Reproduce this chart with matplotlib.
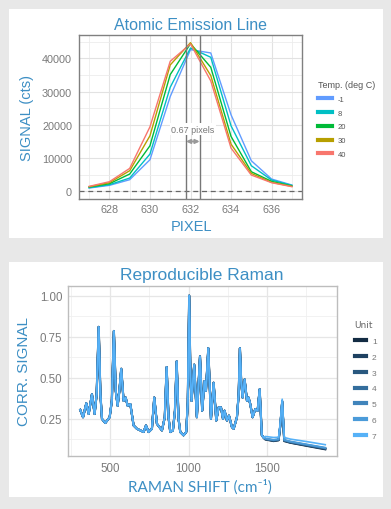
import matplotlib
matplotlib.use("Agg")
import matplotlib.pyplot as plt
from matplotlib.patches import Rectangle
from matplotlib.ticker import MultipleLocator
import numpy as np

# ---- Atomic emission line data ----
pixels = [627, 628, 629, 630, 631, 632, 633, 634, 635, 636, 637]
temps = ['-1', '8', '20', '30', '40']
signal_m1 = [1000, 1800, 3500, 9500, 28500, 42600, 41600, 23000, 9200, 3700, 1900]
signal_8 = [1100, 2000, 4000, 11200, 31300, 43100, 40300, 19700, 7700, 3400, 1800]
signal_20 = [1300, 2300, 5200, 13700, 35100, 44400, 37300, 16500, 5900, 3000, 1600]
signal_30 = [1400, 2600, 6200, 16700, 38000, 44700, 34800, 14200, 5400, 2700, 1500]
signal_40 = [1500, 2900, 6900, 19400, 39100, 44300, 33200, 13000, 4900, 2600, 1400]
temp_colors = ['#619CFF', '#00BFC4', '#00BA38', '#B79F00', '#F8766D']
centroids = [631.78, 632.45]
shift_label = '0.67 pixels'

# ---- Raman spectrum data (shared part, all units overlap) ----
raman_x = [308, 326, 347, 362, 383, 400, 413, 426, 437, 447, 468, 496, 510, 523, 535,
           547, 558, 570, 585, 598, 611, 628, 649, 670, 692, 713, 728, 745, 766, 781,
           798, 830, 848, 860, 872, 883, 900, 913, 924, 936, 947, 968, 985, 995, 1004,
           1012, 1019, 1036, 1053, 1073, 1087, 1102, 1111, 1126, 1143, 1160, 1177, 1192,
           1207, 1220, 1230, 1245, 1258, 1277, 1288, 1309, 1320, 1328, 1336, 1345, 1358,
           1373, 1383, 1394, 1409, 1426, 1441, 1454, 1468, 1480]
raman_y = [0.305, 0.26, 0.345, 0.28, 0.40, 0.28, 0.40, 0.81, 0.40, 0.25, 0.225, 0.26,
           0.36, 0.785, 0.42, 0.33, 0.42, 0.555, 0.36, 0.38, 0.33, 0.34, 0.21, 0.19,
           0.18, 0.17, 0.21, 0.17, 0.19, 0.38, 0.22, 0.18, 0.26, 0.565, 0.26, 0.17,
           0.18, 0.30, 0.60, 0.25, 0.17, 0.15, 0.17, 0.35, 1.0, 0.50, 0.36, 0.58, 0.26,
           0.63, 0.30, 0.48, 0.42, 0.68, 0.25, 0.47, 0.24, 0.32, 0.32, 0.25, 0.30, 0.24,
           0.27, 0.20, 0.19, 0.26, 0.40, 0.68, 0.48, 0.38, 0.49, 0.36, 0.38, 0.34, 0.26,
           0.31, 0.30, 0.43, 0.15, 0.135]

# tail region, where the units separate
tail_x = [1490, 1543, 1575, 1586, 1598, 1611, 1650, 1760, 1873]
units = ['1', '2', '3', '4', '5', '6', '7']
tail_u1 = [0.125, 0.115, 0.120, 0.21, 0.355, 0.115, 0.105, 0.085, 0.065]
tail_u2 = [0.126, 0.117, 0.121, 0.21, 0.355, 0.117, 0.106, 0.087, 0.067]
tail_u3 = [0.127, 0.118, 0.122, 0.21, 0.358, 0.118, 0.108, 0.088, 0.069]
tail_u4 = [0.128, 0.119, 0.123, 0.21, 0.358, 0.119, 0.109, 0.090, 0.071]
tail_u5 = [0.129, 0.121, 0.125, 0.215, 0.36, 0.121, 0.111, 0.092, 0.073]
tail_u6 = [0.131, 0.123, 0.127, 0.215, 0.36, 0.123, 0.113, 0.094, 0.075]
tail_u7 = [0.143, 0.137, 0.138, 0.23, 0.37, 0.137, 0.127, 0.111, 0.093]
unit_colors = ['#132B43', '#1E4161', '#29587F', '#346E9D', '#4084BB', '#4B9BD9', '#56B1F7']

BLUE = '#3d8fc4'
TICK = '#7a7a7a'
W, H = 391, 510

fig = plt.figure(figsize=(W / 100, H / 100), dpi=100, facecolor='#e8e8e8')

# white cards
fig.patches.append(Rectangle((9 / W, 1 - 239 / H), 374 / W, 229 / H,
                             transform=fig.transFigure, facecolor='white', zorder=-1))
fig.patches.append(Rectangle((9 / W, 1 - 498 / H), 374 / W, 235 / H,
                             transform=fig.transFigure, facecolor='white', zorder=-1))

# ---------------- top panel ----------------
ax1 = fig.add_axes([79 / W, 1 - 200 / H, 223 / W, 164 / H])
series = [signal_m1, signal_8, signal_20, signal_30, signal_40]
for t, s, c in zip(temps, series, temp_colors):
    ax1.plot(pixels, s, color=c, lw=1.0, label=t)
ax1.axhline(0, color='#666666', lw=0.9, ls=(0, (4, 3)))
for cx in centroids:
    ax1.axvline(cx, color='#777777', lw=1.0)
ax1.annotate('', xy=(centroids[0], 15000), xytext=(centroids[1], 15000),
             arrowprops=dict(arrowstyle='<|-|>', color='#999999', lw=1.3,
                             mutation_scale=6, shrinkA=0, shrinkB=0))
ax1.text(np.mean(centroids), 18700, shift_label, ha='center', va='center',
         fontsize=6.5, color='#777777', family='Liberation Sans',
         bbox=dict(facecolor='white', edgecolor='none', pad=1))
ax1.set_xlim(626.5, 637.5)
ax1.set_ylim(-2300, 47000)
ax1.xaxis.set_major_locator(MultipleLocator(2))
ax1.xaxis.set_minor_locator(MultipleLocator(1))
ax1.yaxis.set_major_locator(MultipleLocator(10000))
ax1.yaxis.set_minor_locator(MultipleLocator(5000))
ax1.grid(which='major', color='#e2e2e2', lw=0.8)
ax1.grid(which='minor', color='#ececec', lw=0.6)
ax1.set_axisbelow(True)
ax1.tick_params(which='both', length=0, labelsize=7.8, colors=TICK)
ax1.tick_params(axis='y', pad=5)
ax1.tick_params(axis='x', pad=3.5)
for lab in ax1.get_xticklabels() + ax1.get_yticklabels():
    lab.set_family('Liberation Sans')
for sp in ax1.spines.values():
    sp.set_color('#808080')
    sp.set_linewidth(1.0)

fig.text(190.5 / W, 1 - 25 / H, 'Atomic Emission Line', ha='center', va='center',
         fontsize=11.5, color=BLUE, family='Liberation Sans')
fig.text(26.7 / W, 1 - 118 / H, 'SIGNAL (cts)', ha='center', va='center',
         rotation=90, fontsize=10.5, color=BLUE, family='Liberation Sans')
fig.text(191 / W, 1 - 227.3 / H, 'PIXEL', ha='center', va='center',
         fontsize=10.5, color=BLUE, family='Liberation Sans')

leg1 = fig.legend(*ax1.get_legend_handles_labels(), loc='upper left',
                  bbox_to_anchor=(311 / W, 1 - 74 / H), frameon=False,
                  title='Temp. (deg C)', fontsize=5.5, title_fontsize=6.5,
                  handlelength=1.8, handletextpad=0.8, labelspacing=0.85,
                  prop={'family': 'Liberation Sans', 'size': 5.5})
leg1.get_title().set_color('#555555')
leg1.get_title().set_family('Liberation Sans')
leg1._legend_box.align = 'left'
for h in leg1.legend_handles:
    h.set_linewidth(3)
for tx in leg1.get_texts():
    tx.set_color('#555555')

# ---------------- bottom panel ----------------
ax2 = fig.add_axes([68 / W, 1 - 456.7 / H, 269 / W, 169.4 / H])
tails = [tail_u1, tail_u2, tail_u3, tail_u4, tail_u5, tail_u6, tail_u7]
widths = [1.55, 1.5, 1.45, 1.4, 1.35, 1.3, 1.2]
for u, tl, c, lw in zip(units, tails, unit_colors, widths):
    ax2.plot(raman_x + tail_x, raman_y + tl, color=c, lw=lw, label=u)
ax2.set_xlim(230, 1948)
ax2.set_ylim(0.026, 1.057)
ax2.xaxis.set_major_locator(MultipleLocator(500))
ax2.xaxis.set_minor_locator(MultipleLocator(250))
ax2.yaxis.set_major_locator(MultipleLocator(0.25))
ax2.yaxis.set_minor_locator(MultipleLocator(0.125))
ax2.yaxis.set_major_formatter(lambda v, p: f'{v:.2f}')
ax2.grid(which='major', color='#e6e6e6', lw=0.9)
ax2.grid(which='minor', color='#f0f0f0', lw=0.6)
ax2.set_axisbelow(True)
ax2.tick_params(which='both', length=0, labelsize=8.3, colors=TICK)
ax2.tick_params(axis='y', pad=4)
ax2.tick_params(axis='x', pad=4.5)
for lab in ax2.get_xticklabels() + ax2.get_yticklabels():
    lab.set_family('Liberation Sans')
for sp in ax2.spines.values():
    sp.set_color('#bdbdbd')
    sp.set_linewidth(1.0)

fig.text(202 / W, 1 - 275.7 / H, 'Reproducible Raman', ha='center', va='center',
         fontsize=12.5, color=BLUE, family='Liberation Sans')
fig.text(24 / W, 1 - 372 / H, 'CORR. SIGNAL', ha='center', va='center',
         rotation=90, fontsize=11, color=BLUE, family='Liberation Sans')
fig.text(200 / W, 1 - 486.7 / H, 'RAMAN SHIFT (cm\u207b\u00b9)', ha='center', va='center',
         fontsize=11, color=BLUE, family=['Lato', 'DejaVu Sans'])

leg2 = fig.legend(*ax2.get_legend_handles_labels(), loc='upper left',
                  bbox_to_anchor=(347 / W, 1 - 314 / H), frameon=False,
                  title='Unit', fontsize=6, title_fontsize=6.5,
                  handlelength=1.4, handletextpad=0.7, labelspacing=0.95,
                  prop={'family': 'Liberation Sans', 'size': 6})
leg2.get_title().set_color('#666666')
leg2._legend_box.align = 'left'
for h in leg2.legend_handles:
    h.set_linewidth(3)
for tx in leg2.get_texts():
    tx.set_color('#777777')

fig.savefig('out.png', dpi=100, facecolor=fig.get_facecolor())
